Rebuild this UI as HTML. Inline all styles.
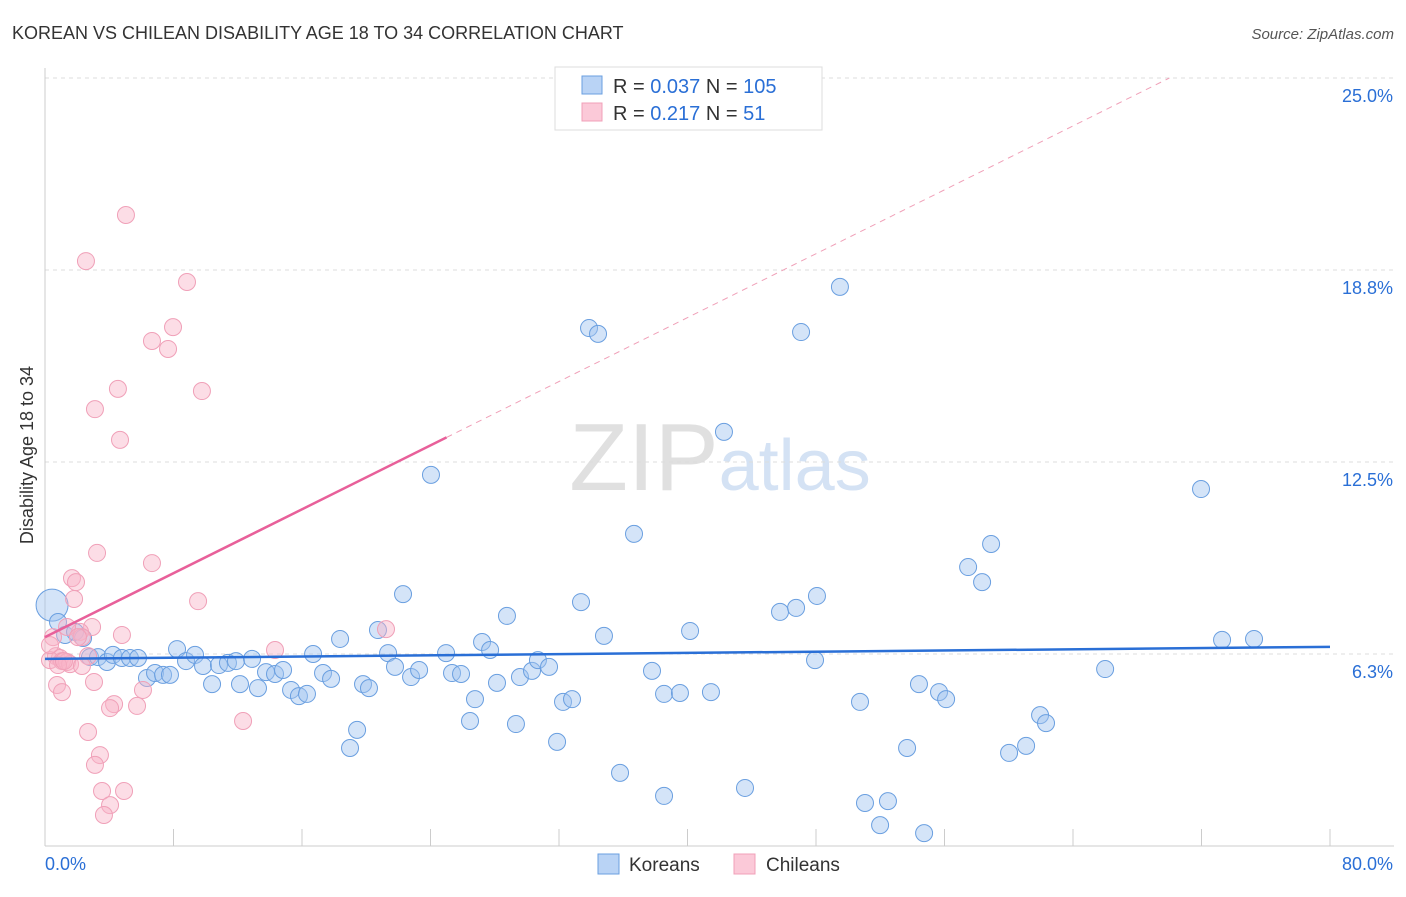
<!DOCTYPE html>
<html><head><meta charset="utf-8"><style>
body{margin:0;background:#fff;font-family:"Liberation Sans",sans-serif;}
svg text{font-family:"Liberation Sans",sans-serif;}
</style></head><body>
<svg id="chart" width="1406" height="892" xmlns="http://www.w3.org/2000/svg">
<text x="12" y="39" font-size="18" fill="#333">KOREAN VS CHILEAN DISABILITY AGE 18 TO 34 CORRELATION CHART</text>
<text x="1394" y="39" font-size="15" fill="#555" text-anchor="end" font-style="italic">Source: ZipAtlas.com</text>
<text x="720" y="490" font-size="96" fill="#ddd" text-anchor="middle" font-family="Liberation Serif"><tspan fill="#e0e0e0">ZIP</tspan><tspan fill="#d4e2f4" font-family="Liberation Sans" font-size="72">atlas</tspan></text>
<g id="grid"></g>
<g id="axes"></g>
<g id="points"></g>
<g id="lines"></g>
<text transform="translate(33,455) rotate(-90)" font-size="18" fill="#333" text-anchor="middle">Disability Age 18 to 34</text>
<g>
<rect x="555" y="67" width="267" height="63" fill="#fff" stroke="#ddd"/>
<rect x="582" y="76" width="20" height="18" fill="#b9d3f5" stroke="#6a9fe0"/>
<rect x="582" y="103" width="20" height="18" fill="#fbc9d8" stroke="#f0a0b8"/>
<text x="613" y="93" font-size="20" fill="#333">R = <tspan fill="#2a6fd6">0.037</tspan>   N = <tspan fill="#2a6fd6">105</tspan></text>
<text x="613" y="120" font-size="20" fill="#333">R =  <tspan fill="#2a6fd6">0.217</tspan>   N =   <tspan fill="#2a6fd6">51</tspan></text>
</g>
<g>
<rect x="598" y="854" width="21" height="20" fill="#b9d3f5" stroke="#6a9fe0"/>
<text x="629" y="871" font-size="19" fill="#333">Koreans</text>
<rect x="734" y="854" width="21" height="20" fill="#fbc9d8" stroke="#f0a0b8"/>
<text x="766" y="871" font-size="19" fill="#333">Chileans</text>
</g>
</svg>
<script>
const koreanX=[0.44,0.81,1.25,1.87,2.37,2.80,3.30,3.86,4.23,4.79,5.29,5.79,6.35,6.85,7.35,7.78,8.22,8.78,9.34,9.84,10.40,10.83,11.39,11.89,12.14,12.89,13.26,13.76,14.32,14.82,15.32,15.81,16.31,16.69,17.31,17.81,18.37,18.99,19.43,19.80,20.17,20.73,21.36,21.79,22.29,22.79,23.29,24.03,24.97,25.34,25.90,26.46,26.77,27.21,27.71,28.14,28.76,29.32,29.57,30.32,30.69,31.38,31.88,32.25,32.81,33.37,33.87,34.43,34.80,35.80,36.67,37.79,38.54,38.54,39.53,40.16,41.46,42.27,43.58,45.76,46.76,47.07,47.94,48.06,49.49,50.74,51.05,51.99,52.48,53.67,54.41,54.73,55.66,56.10,57.47,58.34,58.90,60.02,61.08,61.95,62.32,66.00,71.97,73.28,75.27];
const koreanY=[7.84,7.29,6.87,6.97,6.77,6.15,6.15,5.99,6.22,6.12,6.12,6.12,5.47,5.63,5.57,5.57,6.41,6.02,6.22,5.86,5.27,5.89,5.96,6.02,5.27,6.09,5.14,5.66,5.60,5.73,5.08,4.88,4.95,6.25,5.63,5.44,6.74,3.19,3.78,5.27,5.14,7.03,6.28,5.83,8.20,5.50,5.73,12.08,6.28,5.63,5.60,4.07,4.78,6.64,6.38,5.31,7.49,3.97,5.50,5.70,6.05,5.83,3.39,4.69,4.78,7.94,16.86,16.67,6.84,2.38,10.16,5.70,1.63,4.95,4.98,7.00,5.01,13.48,1.89,7.62,7.75,16.73,6.05,8.14,18.20,4.69,1.40,0.68,1.46,3.19,5.27,0.42,5.01,4.78,9.08,8.59,9.83,3.03,3.26,4.26,4.00,5.76,11.62,6.71,6.74];
const chileanX=[5.04,2.55,8.84,7.97,6.66,7.66,4.54,9.77,3.11,4.67,3.24,6.66,1.68,1.93,9.53,1.81,4.79,2.93,2.18,2.30,14.32,21.23,12.33,0.50,0.68,0.93,0.31,1.06,1.37,1.56,2.68,2.30,3.05,0.75,1.06,6.10,4.30,4.05,5.73,2.68,3.42,3.11,3.55,4.92,4.05,3.67,0.31,1.37,2.05,0.81,1.18];
const chileanY=[20.54,19.04,18.36,16.89,16.44,16.18,14.88,14.81,14.22,13.22,9.54,9.21,8.72,8.59,7.97,8.04,6.87,7.13,6.97,6.80,6.38,7.06,4.07,6.80,6.18,6.12,6.05,6.02,5.99,5.92,6.18,5.86,5.34,5.24,5.01,5.08,4.62,4.49,4.56,3.71,2.96,2.64,1.79,1.79,1.33,1.01,6.54,7.13,6.80,5.89,6.02];
const yTickValues=[6.3,12.5,18.8,25.0];
const yTickLabels=["6.3%","12.5%","18.8%","25.0%"];
const xTickValues=[0,8,16,24,32,40,48,56,64,72,80];
const koreanFit=[6.09,0.0049];
const chileanFit=[6.80,0.26];

const NS="http://www.w3.org/2000/svg";
const X0=45,X1=1330,Y0=846,PXPERPCT=192/6.25;
const sx=v=>X0+(X1-X0)*v/80;
const sy=v=>Y0-v*PXPERPCT;
function mk(tag,attrs,parent){const e=document.createElementNS(NS,tag);for(const k in attrs)e.setAttribute(k,attrs[k]);parent.appendChild(e);return e;}
const grid=document.getElementById('grid'),axes=document.getElementById('axes'),pts=document.getElementById('points'),lines=document.getElementById('lines');
yTickValues.forEach((v,i)=>{
  const yy=sy(v===25?25.0:(v===6.3?6.25:(v===12.5?12.5:18.75)));
  const l=mk('line',{x1:X0,x2:1394,y1:yy,y2:yy,stroke:'#ddd','stroke-dasharray':'4,4'},grid);
  
  
  const t=mk('text',{x:1393,y:yy+24,'font-size':18,fill:'#2a6fd6','text-anchor':'end'},grid);
  t.textContent=yTickLabels[i];
  
  
});
const ya=mk('line',{x1:X0,x2:X0,y1:68,y2:846,stroke:'#ccc'},axes);


const xa=mk('line',{x1:X0,x2:1394,y1:846,y2:846,stroke:'#ccc'},axes);


xTickValues.forEach(v=>{
  const t=mk('line',{x1:sx(v),x2:sx(v),y1:829,y2:846,stroke:'#ccc'},axes);
  
  
});
const xl0=mk('text',{x:45,y:870,'font-size':18,fill:'#2a6fd6'},axes);xl0.textContent='0.0%';


const xl1=mk('text',{x:1393,y:870,'font-size':18,fill:'#2a6fd6','text-anchor':'end'},axes);xl1.textContent='80.0%';


koreanX.forEach((x,i)=>{
  const c=mk('circle',{cx:sx(x),cy:sy(koreanY[i]),r:i===0?16:8.5,fill:'rgba(160,196,240,0.45)',stroke:'#6a9fe0','stroke-width':1},pts);
  
  
});
chileanX.forEach((x,i)=>{
  const c=mk('circle',{cx:sx(x),cy:sy(chileanY[i]),r:8.5,fill:'rgba(248,180,200,0.45)',stroke:'#f0a0b8','stroke-width':1},pts);
  
  
});
const kl=mk('line',{x1:sx(0),y1:sy(koreanFit[0]),x2:sx(80),y2:sy(koreanFit[0]+koreanFit[1]*80),stroke:'#2a6fd6','stroke-width':2.5},lines);


const cl=mk('line',{x1:sx(0),y1:sy(chileanFit[0]),x2:sx(25),y2:sy(chileanFit[0]+chileanFit[1]*25),stroke:'#e8609a','stroke-width':2.5},lines);


const xe=(25-chileanFit[0])/chileanFit[1];
const cd=mk('line',{x1:sx(25),y1:sy(chileanFit[0]+chileanFit[1]*25),x2:sx(xe),y2:sy(25),stroke:'#f0a0b8','stroke-width':1,'stroke-dasharray':'6,5'},lines);


</script>
</body></html>
